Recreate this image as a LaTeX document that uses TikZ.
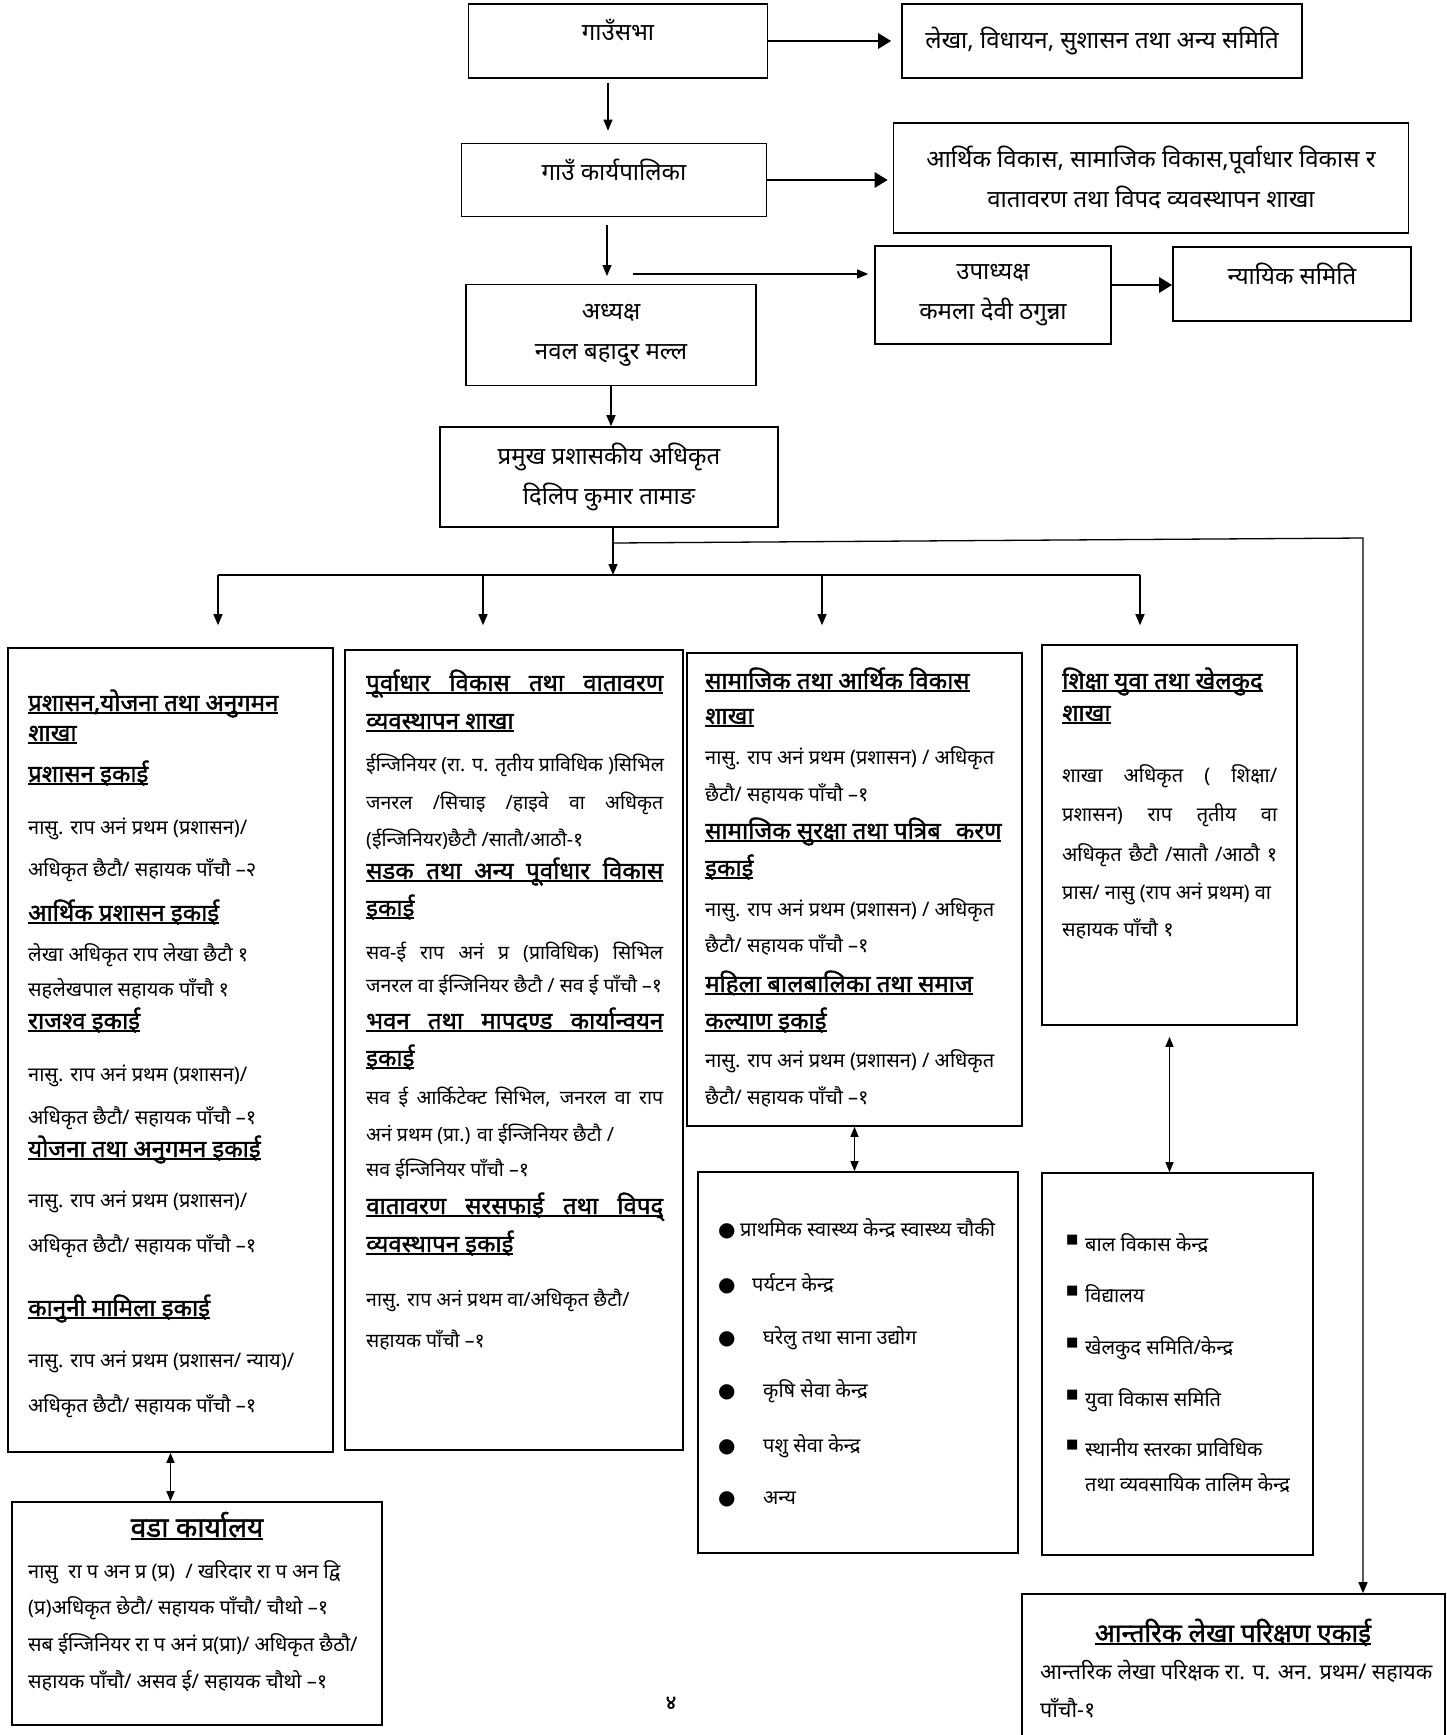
\documentclass[tikz,border=0pt]{standalone}
\usepackage{fontspec}
\setmainfont{Noto Sans}[Script=Devanagari]
\newfontfamily\headfam{Noto Sans}[Script=Devanagari, FakeBold=1.5]
\newfontfamily\symfont{DejaVu Sans}
\usetikzlibrary{arrows.meta}

\lineskiplimit=-100pt
\newcommand\bodyfont{\fontsize{20}{30}\selectfont\lineskiplimit=-100pt}
\newcommand\infrafont{\fontsize{19.5}{30}\selectfont\lineskiplimit=-100pt}
\newcommand\auditfont{\fontsize{21.5}{30}\selectfont\lineskiplimit=-100pt}
\newcommand\headfont{\headfam\fontsize{24}{30}\selectfont}
\newcommand\topfont{\fontsize{24}{40}\selectfont\lineskiplimit=-100pt}
\newlength\jw
\newcommand\hd[1]{{\headfont\setbox0\hbox{#1}\rlap{\rule[-3pt]{\wd0}{2.2pt}}\box0}}
\newcommand\hdj[1]{\hd{\makebox[\jw][s]{#1}}}
\newcommand\jl[1]{\makebox[\jw][s]{#1}}
\newcommand\bul{\makebox[22pt][l]{\symfont\fontsize{20}{20}\selectfont ●}}
\newcommand\sq{\makebox[19pt][l]{\raisebox{8pt}{\symfont\fontsize{13}{13}\selectfont ■}}}

\begin{document}
\begin{tikzpicture}[x=1pt, y=-1pt,
    box/.style={draw, line width=1.6pt, inner sep=0pt},
    topbox/.style={box, font=\topfont, align=center},
    txt/.style={anchor=base west, align=left, inner sep=0pt, font=\bodyfont},
    arr/.style={-{Triangle[length=11pt, width=9pt]}, line width=1.3pt},
    bigarr/.style={-{Triangle[length=13pt, width=15pt]}, line width=2.8pt},
    both/.style={{Triangle[length=10pt, width=8pt]}-{Triangle[length=10pt, width=8pt]}, line width=1.3pt}]
    \useasboundingbox (0,0) rectangle (1447,1735);

    % top of the chart
    \node[topbox, minimum width=299, minimum height=74, text depth=22pt] (sabha) at (618,41) {गाउँसभा};
    \node[topbox, minimum width=400, minimum height=74] (lekha) at (1102,41) {लेखा, विधायन, सुशासन तथा अन्य समिति};
    \node[topbox, minimum width=305, minimum height=73, text depth=20pt] (karya) at (614,180) {गाउँ कार्यपालिका};
    \node[topbox, minimum width=515, minimum height=110] (arthik) at (1151,178) {आर्थिक विकास, सामाजिक विकास,पूर्वाधार विकास र\\वातावरण तथा विपद व्यवस्थापन शाखा};
    \node[topbox, minimum width=236, minimum height=98] (upa) at (993,295) {उपाध्यक्ष\\कमला देवी ठगुन्ना};
    \node[topbox, minimum width=238, minimum height=74, text depth=20pt] (nyay) at (1292,284) {न्यायिक समिति};
    \node[topbox, minimum width=290, minimum height=101] (adhy) at (611,335) {अध्यक्ष\\नवल बहादुर मल्ल};
    \node[topbox, minimum width=338, minimum height=100] (pramukh) at (609,477) {प्रमुख प्रशासकीय अधिकृत\\दिलिप कुमार तामाङ};

    \coordinate (kj) at (607,276);
    \coordinate (kj2) at (633,274);
    \coordinate (br) at (613,543);
    \coordinate (corner) at (1363,538);
    \coordinate (bus) at (613,575);
    \coordinate (d1) at (218,575);
    \coordinate (d2) at (483,575);
    \coordinate (d3) at (822,575);
    \coordinate (d4) at (1140,575);

    % branches
    \node[box, minimum width=325, minimum height=804] (b1) at (170.5,1050) {};
    \node[box, minimum width=338, minimum height=800] (b2) at (514,1050) {};
    \node[box, minimum width=335, minimum height=473] (b3) at (854.5,889.5) {};
    \node[box, minimum width=255, minimum height=380] (b4) at (1169.5,835) {};
    \node[box, minimum width=320, minimum height=381] (b5) at (858,1362.5) {};
    \node[box, minimum width=271, minimum height=382] (b6) at (1177.5,1364) {};
    \node[box, minimum width=370, minimum height=223] (ward) at (197,1613.5) {};
    \node[box, minimum width=423, minimum height=150] (audit) at (1233.5,1669) {};

    \draw[bigarr] (sabha.east) -- ([xshift=-10pt]sabha.east -| lekha.west);
    \draw[bigarr] (karya.east) -- ([xshift=-5pt]karya.east -| arthik.west);
    \draw[bigarr] ([yshift=10pt]upa.east) -- ([yshift=10pt]upa.east -| nyay.west);
    \draw[arr, shorten >=12pt] ([xshift=-10pt]sabha.south) ++(0,4) -- ([xshift=-10pt]sabha.south |- karya.north);
    \draw[arr] ([xshift=-7pt]karya.south) ++(0,8) -- (kj);
    \draw[arr, shorten >=6pt] (kj2) -- (kj2 -| upa.west);
    \draw[arr] (adhy.south) -- (adhy.south |- pramukh.north);
    \draw[arr] (bus |- pramukh.south) -- (bus);
    \draw[arr] (br) -- (corner) -- (corner |- audit.north);
    \draw[line width=1.4pt] (d1) -- (d4);
    \foreach \d/\b/\s in {d1/b1/22, d2/b2/24, d3/b3/27, d4/b4/19}
        \draw[arr, shorten >=\s pt] (\d) -- (\d |- \b.north);
    \draw[both] (b1.south) -- (b1.south |- ward.north);
    \draw[both] (b3.south) -- (b3.south |- b5.north);
    \draw[both, shorten <=11pt] (b4.south) -- (b4.south |- b6.north);

    % texts of the branches (placed by the baseline of their last line)
    \node[txt] (t1) at (28,1412) {%
        \hd{प्रशासन,योजना तथा अनुगमन}\\
        \hd{शाखा}\\[11pt]
        \hd{प्रशासन इकाई}\\[22pt]
        नासु. राप अनं प्रथम (प्रशासन)/\\[12pt]
        अधिकृत छैटौ/ सहायक पाँचौ –२\\[15pt]
        \hd{आर्थिक प्रशासन इकाई}\\[10pt]
        लेखा अधिकृत राप लेखा छैटौ १\\[5pt]
        सहलेखपाल सहायक पाँचौ १\\[3pt]
        \hd{राजश्व इकाई}\\[22pt]
        नासु. राप अनं प्रथम (प्रशासन)/\\[13pt]
        अधिकृत छैटौ/ सहायक पाँचौ –१\\[3pt]
        \hd{योजना तथा अनुगमन इकाई}\\[20pt]
        नासु. राप अनं प्रथम (प्रशासन)/\\[15pt]
        अधिकृत छैटौ/ सहायक पाँचौ –१\\[34pt]
        \hd{कानुनी मामिला इकाई}\\[21pt]
        नासु. राप अनं प्रथम (प्रशासन/ न्याय)/\\[15pt]
        अधिकृत छैटौ/ सहायक पाँचौ –१};
    \setlength\jw{297pt}
    \node[txt, font=\infrafont] (t2) at (366,1347) {%
        \hdj{पूर्वाधार विकास तथा वातावरण}\\[8pt]
        \hd{व्यवस्थापन शाखा}\\[12pt]
        ईन्जिनियर (रा. प. तृतीय प्राविधिक )सिभिल\\[8pt]
        \jl{जनरल /सिचाइ /हाइवे वा अधिकृत}\\[7pt]
        (ईन्जिनियर)छैटौ /सातौ/आठौ-१\\[3pt]
        \hdj{सडक तथा अन्य पूर्वाधार विकास}\\[7pt]
        \hd{इकाई}\\[13pt]
        \jl{सव-ई राप अनं प्र (प्राविधिक) सिभिल}\\[3pt]
        जनरल वा ईन्जिनियर छैटौ / सव ई पाँचौ –१\\[7pt]
        \hdj{भवन तथा मापदण्ड कार्यान्वयन}\\[7pt]
        \hd{इकाई}\\[8pt]
        \jl{सव ई आर्किटेक्ट सिभिल, जनरल वा राप}\\[7pt]
        अनं प्रथम (प्रा.) वा ईन्जिनियर छैटौ /\\[5pt]
        सव ईन्जिनियर पाँचौ –१\\[8pt]
        \hdj{वातावरण सरसफाई तथा विपद्}\\[8pt]
        \hd{व्यवस्थापन इकाई}\\[24pt]
        नासु. राप अनं प्रथम वा/अधिकृत छैटौ/\\[11pt]
        सहायक पाँचौ –१};
    \node[txt] (t3) at (705,1104) {%
        \hd{सामाजिक तथा आर्थिक विकास}\\[5pt]
        \hd{शाखा}\\[10pt]
        नासु. राप अनं प्रथम (प्रशासन) / अधिकृत\\[7pt]
        छैटौ/ सहायक पाँचौ –१\\[8pt]
        \hd{सामाजिक सुरक्षा तथा पत्रिब\hspace{15pt}करण}\\[7pt]
        \hd{इकाई}\\[10pt]
        नासु. राप अनं प्रथम (प्रशासन) / अधिकृत\\[6pt]
        छैटौ/ सहायक पाँचौ –१\\[10pt]
        \hd{महिला बालबालिका तथा समाज}\\[7pt]
        \hd{कल्याण इकाई}\\[8pt]
        नासु. राप अनं प्रथम (प्रशासन) / अधिकृत\\[7pt]
        छैटौ/ सहायक पाँचौ –१};
    \setlength\jw{215pt}
    \node[txt] (t4) at (1062,936) {%
        \hd{शिक्षा युवा तथा खेलकुद}\\[2pt]
        \hd{शाखा}\\[31pt]
        \jl{शाखा अधिकृत ( शिक्षा/}\\[9pt]
        \jl{प्रशासन) राप तृतीय वा}\\[10pt]
        \jl{अधिकृत छैटौ /सातौ /आठौ १}\\[8pt]
        प्रास/ नासु (राप अनं प्रथम) वा\\[7pt]
        सहायक पाँचौ १};
    \node[txt] (t5) at (718,1504) {%
        \bul प्राथमिक स्वास्थ्य केन्द्र स्वास्थ्य चौकी\\[25pt]
        \bul\hspace*{12pt}पर्यटन केन्द्र\\[23pt]
        \bul\hspace*{23pt}घरेलु तथा साना उद्योग\\[23pt]
        \bul\hspace*{23pt}कृषि सेवा केन्द्र\\[25pt]
        \bul\hspace*{23pt}पशु सेवा केन्द्र\\[22pt]
        \bul\hspace*{23pt}अन्य};
    \node[txt] (t6) at (1066,1491) {%
        \sq बाल विकास केन्द्र\\[21pt]
        \sq विद्यालय\\[22pt]
        \sq खेलकुद समिति/केन्द्र\\[22pt]
        \sq युवा विकास समिति\\[20pt]
        \sq स्थानीय स्तरका प्राविधिक\\[5pt]
        \hspace*{19pt}तथा व्यवसायिक तालिम केन्द्र};

    % ward office and internal audit
    \node[anchor=base, inner sep=0pt] (wt) at (197,1537) {\hd{\fontsize{28}{30}\selectfont वडा कार्यालय}};
    \node[txt] (w1) at (28,1688) {%
        नासु\ \ रा प अन प्र (प्र) \ / खरिदार रा प अन द्वि\\[6pt]
        (प्र)अधिकृत छेटौ/ सहायक पाँचौ/ चौथो –१\\[7pt]
        सब ईन्जिनियर रा प अनं प्र(प्रा)/ अधिकृत छैठौ/\\[7pt]
        सहायक पाँचौ/ असव ई/ सहायक चौथो –१};
    \node[anchor=base, inner sep=0pt] (at) at (1233,1642) {\hd{\fontsize{26}{30}\selectfont आन्तरिक लेखा परिक्षण एकाई}};
    \node[txt, font=\auditfont] (a1) at (1040,1717) {%
        आन्तरिक लेखा परिक्षक रा. प. अन. प्रथम/ सहायक\\[8pt]
        पाँचौ-१};

    \node[font=\headfam\fontsize{20}{20}\selectfont] (pg) at (671,1703) {४};
\end{tikzpicture}
\end{document}
